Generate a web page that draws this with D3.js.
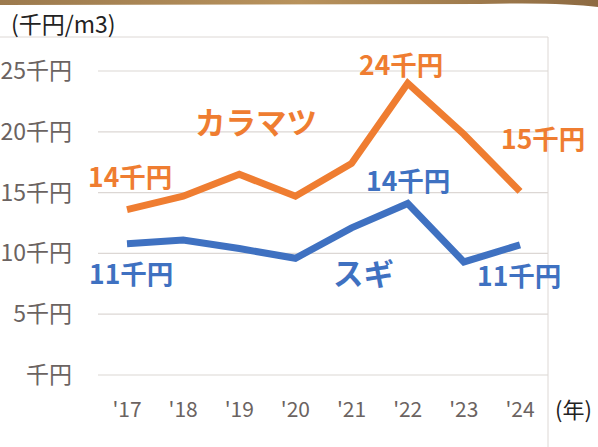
<!doctype html>
<html>
<head>
<meta charset="utf-8"/>
<title>カラマツ・スギ 価格</title>
<script src="https://d3js.org/d3.v7.min.js"></script>
<style>
body{margin:0;background:#fff;}
text{font-family:"Noto Sans CJK JP","Noto Sans",sans-serif;}
</style>
</head>
<body>
<script>
// data
var years = ["'17","'18","'19","'20","'21","'22","'23","'24"];
var karamatsu = [13.6, 14.7, 16.5, 14.7, 17.4, 24.0, 19.8, 15.1];
var sugi = [10.8, 11.1, 10.4, 9.6, 12.1, 14.1, 9.3, 10.7];
var yTicks = [0, 5, 10, 15, 20, 25];

var W = 598, H = 447;
var orange = "#ef7d31", blue = "#3f71c1";

var svg = d3.select("body").append("svg")
  .attr("width", W).attr("height", H);

// brown band at the top
var band = svg.append("defs").append("linearGradient").attr("id","band");
band.append("stop").attr("offset","0%").attr("stop-color","#9c7a4e");
band.append("stop").attr("offset","50%").attr("stop-color","#b8925c");
band.append("stop").attr("offset","100%").attr("stop-color","#8d6a42");
svg.append("path")
  .attr("d","M0,0 L598,0 L598,7 Q560,2 480,4 L0,5 Z")
  .attr("fill","url(#band)");

var x = d3.scalePoint().domain(years).range([127, 520]);
var y = d3.scaleLinear().domain([0, 25]).range([375, 71]);

// plot border
svg.append("line").attr("x1",0).attr("x2",548).attr("y1",37).attr("y2",37)
  .attr("stroke","#ddd8d5").attr("stroke-width",1);
svg.append("line").attr("x1",548).attr("x2",548).attr("y1",37).attr("y2",H)
  .attr("stroke","#ddd8d5").attr("stroke-width",1);

// grid
svg.selectAll(".grid").data(yTicks).enter().append("line")
  .attr("class","grid")
  .attr("x1",98).attr("x2",548)
  .attr("y1",function(d){return y(d);}).attr("y2",function(d){return y(d);})
  .attr("stroke","#dcd7d4").attr("stroke-width",1.2);

// y labels
svg.selectAll(".ylab").data(yTicks).enter().append("text")
  .attr("class","ylab")
  .attr("x",72).attr("y",function(d){return y(d)+8;})
  .attr("text-anchor","end")
  .attr("font-size",23).attr("fill","#6b6361")
  .text(function(d){return (d===0?"":d)+"千円";});

// x labels
svg.selectAll(".xlab").data(years).enter().append("text")
  .attr("class","xlab")
  .attr("x",function(d){return x(d);}).attr("y",417)
  .attr("text-anchor","middle")
  .attr("font-size",21).attr("fill","#6b6361")
  .text(function(d){return d;});

svg.append("text").attr("x",555).attr("y",418).attr("font-size",22).attr("fill","#222")
  .text("(年)");
svg.append("text").attr("x",11).attr("y",33).attr("font-size",23).attr("fill","#222")
  .text("(千円/m3)");

// lines
var line = d3.line()
  .x(function(d,i){return x(years[i]);})
  .y(function(d){return y(d);});

svg.append("path").datum(karamatsu).attr("d",line)
  .attr("fill","none").attr("stroke",orange).attr("stroke-width",7)
  .attr("stroke-linejoin","miter");
svg.append("path").datum(sugi).attr("d",line)
  .attr("fill","none").attr("stroke",blue).attr("stroke-width",7)
  .attr("stroke-linejoin","miter");

// labels
function lab(t, xx, yy, c, fs){
  svg.append("text").attr("x",xx).attr("y",yy).attr("fill",c)
    .attr("font-size",fs).attr("font-weight","bold").text(t);
}
lab(karamatsu[0].toFixed(0)+"千円", 88, 187, orange, 26.5);
lab(karamatsu[5].toFixed(0)+"千円", 359, 75, orange, 26.5);
lab(karamatsu[7].toFixed(0)+"千円", 501, 149, orange, 26.5);
lab("カラマツ", 195, 134, orange, 30.5);
lab(sugi[5].toFixed(0)+"千円", 366, 191, blue, 26.5);
lab(sugi[0].toFixed(0)+"千円", 89, 284, blue, 26.5);
lab(sugi[7].toFixed(0)+"千円", 477, 286, blue, 26.5);
lab("スギ", 333, 285, blue, 30.5);
</script>
</body>
</html>
